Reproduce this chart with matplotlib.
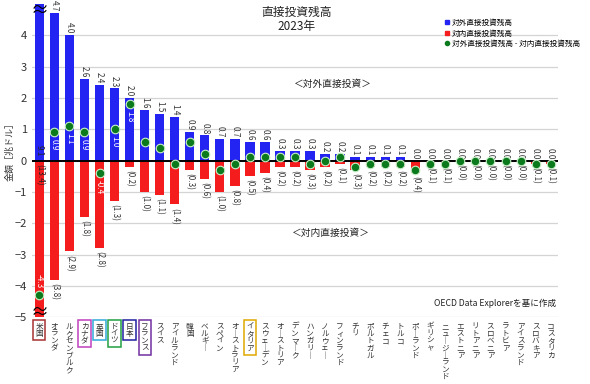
import numpy as np
import matplotlib.pyplot as plt
from matplotlib.lines import Line2D

plt.rcParams['font.family'] = ['Noto Sans CJK JP', 'DejaVu Sans']

countries = ['米国', 'オランダ', 'ルクセンブルク', 'カナダ', '英国', 'ドイツ', '日本', 'フランス',
             'スイス', 'アイルランド', '韓国', 'ベルギー', 'スペイン', 'オーストラリア', 'イタリア',
             'スウェーデン', 'オーストリア', 'デンマーク', 'ハンガリー', 'ノルウェー', 'フィンランド',
             'チリ', 'ポルトガル', 'チェコ', 'トルコ', 'ポーランド', 'ギリシャ', 'ニュージーランド',
             'エストニア', 'リトアニア', 'スロベニア', 'ラトビア', 'アイスランド', 'スロバキア', 'コスタリカ']
outward = [9.1, 4.7, 4.0, 2.6, 2.4, 2.3, 2.0, 1.6, 1.5, 1.4, 0.9, 0.8, 0.7, 0.7, 0.6, 0.6,
           0.3, 0.3, 0.3, 0.2, 0.2, 0.1, 0.1, 0.1, 0.1, 0.0, 0.0, 0.0, 0.0, 0.0, 0.0, 0.0, 0.0, 0.0, 0.0]
inward = [13.4, 3.8, 2.9, 1.8, 2.8, 1.3, 0.2, 1.0, 1.1, 1.4, 0.3, 0.6, 1.0, 0.8, 0.5, 0.4,
          0.2, 0.2, 0.3, 0.2, 0.1, 0.3, 0.2, 0.2, 0.2, 0.4, 0.1, 0.1, 0.0, 0.0, 0.0, 0.0, 0.0, 0.1, 0.1]
net = [-4.3, 0.9, 1.1, 0.9, -0.4, 1.0, 1.8, 0.6, 0.4, -0.1, 0.6, 0.2, -0.3, -0.1, 0.1, 0.1,
       0.1, 0.1, -0.1, 0.0, 0.1, -0.2, -0.1, -0.1, -0.1, -0.3, -0.1, -0.1, 0.0, 0.0, 0.0, 0.0, 0.0, -0.1, -0.1]
boxed = {'米国': '#a83232', 'カナダ': '#c040c0', '英国': '#30a8d8', 'ドイツ': '#20a040',
         '日本': '#2020a0', 'フランス': '#7030a0', 'イタリア': '#e0a800'}
net_labelled = 7

blue = '#2424f2'
red = '#f41c1c'
green = '#0b7a1c'

fig = plt.figure(figsize=(5.9, 3.84), dpi=100)
ax = fig.add_axes([0.054, 0.174, 0.892, 0.816])
x = np.arange(len(countries))
ymin, ymax = -5, 5

ax.bar(x, outward, width=0.62, color=blue, zorder=2)
ax.bar(x, [-v for v in inward], width=0.62, color=red, zorder=2)
ax.axhline(0, color='black', lw=1.4, zorder=3)
ax.scatter(x, net, s=38, color=green, edgecolors='#c8f0c8', linewidths=0.8, zorder=5)

for i in range(len(countries)):
    o, n = outward[i], inward[i]
    if o > ymax:
        ax.text(i, 0.12, f'{o:.1f}', rotation=-90, ha='center', va='bottom', fontsize=5.8, color='#222222', zorder=6)
    else:
        ax.text(i, o + 0.05, f'{o:.1f}', rotation=-90, ha='center', va='bottom', fontsize=5.8, color='#333333')
    if n > -ymin:
        ax.text(i, -0.12, f'({n:.1f})', rotation=-90, ha='center', va='top', fontsize=5.8, color='#222222', zorder=6)
    else:
        ax.text(i, -n - 0.1, f'({n:.1f})', rotation=-90, ha='center', va='top', fontsize=5.8, color='#333333')
    if i < net_labelled:
        v = net[i]
        if v < -2:
            ax.text(i, v + 0.22, f'{v:.1f}', rotation=-90, ha='center', va='bottom', fontsize=5.8, color='white', zorder=6)
        else:
            ax.text(i, v - 0.22, f'{v:.1f}', rotation=-90, ha='center', va='top', fontsize=5.8, color='white', zorder=6)

# broken-axis marks on the US bars
ax.text(0, ymax - 0.22, '≈', ha='center', va='center', fontsize=13, color='black', zorder=7)
ax.text(0, ymin + 0.12, '≈', ha='center', va='center', fontsize=13, color='black', zorder=7)

ax.set_xlim(-0.5, len(countries) - 0.5)
ax.set_ylim(ymin, ymax)
ax.set_yticks(range(-5, 5))
ax.yaxis.grid(True, color='#d4d4d4', lw=0.9, zorder=0)
ax.set_axisbelow(True)
for s in ax.spines.values():
    s.set_visible(False)
ax.tick_params(axis='both', length=0, labelsize=8, colors='#333333')
ax.tick_params(axis='x', pad=4)

labels = ['\n'.join(c.replace('ー', '｜')) for c in countries]
ax.set_xticks(x)
ax.set_xticklabels(labels, fontsize=5.5, linespacing=0.87, va='top')
for lab, name in zip(ax.get_xticklabels(), countries):
    if name in boxed:
        lab.set_bbox(dict(boxstyle='square,pad=0.3', fc='none', ec=boxed[name], lw=1.1))

fig.text(0.503, 0.985, '直接投資残高\n2023年', ha='center', va='top', fontsize=8.5, linespacing=1.15, color='#222222')
fig.text(0.016, 0.61, '金額［兆ドル］', rotation=90, ha='center', va='center', fontsize=6.5, color='#333333')
ax.text(19.5, 2.45, '＜対外直接投資＞', ha='center', va='center', fontsize=7, color='#222222')
ax.text(19.4, -2.31, '＜対内直接投資＞', ha='center', va='center', fontsize=7, color='#222222')
ax.text(30.3, -4.55, 'OECD Data Explorerを基に作成', ha='center', va='center', fontsize=6.2, color='#222222')

handles = [Line2D([], [], marker='s', ls='', color=blue, markersize=3),
           Line2D([], [], marker='s', ls='', color=red, markersize=3),
           Line2D([], [], marker='o', ls='', color=green, markersize=3)]
fig.legend(handles, ['対外直接投資残高', '対内直接投資残高', '対外直接投資残高 - 対内直接投資残高'],
           loc='upper left', bbox_to_anchor=(0.742, 0.965), frameon=False, fontsize=5.5,
           handletextpad=0.1, labelspacing=0.35, handlelength=1.0, borderpad=0.2)

fig.savefig('out.png', dpi=100)
